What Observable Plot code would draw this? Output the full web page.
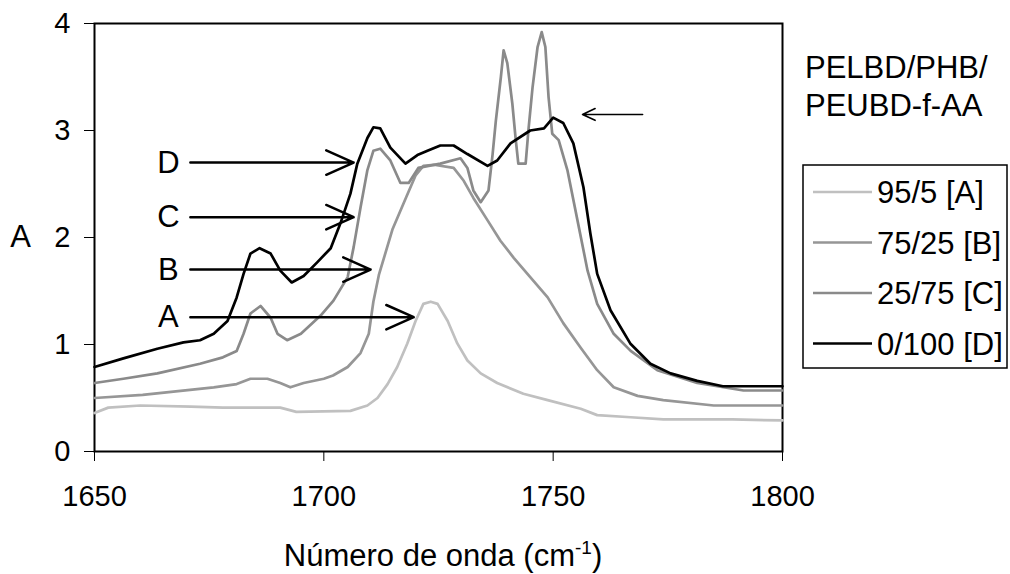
<!DOCTYPE html>
<html><head><meta charset="utf-8">
<script src="https://cdn.jsdelivr.net/npm/d3@7"></script>
<script src="https://cdn.jsdelivr.net/npm/@observablehq/plot@0.6"></script>
<style>
html,body{margin:0;padding:0;background:#fff;}
#chart{width:1010px;height:574px;}
</style></head><body><div id="chart"></div>
<script>
const seriesNames = ["95/5 [A]", "75/25 [B]", "25/75 [C]", "0/100 [D]"];
const seriesColors = ["#c0c0c0", "#969696", "#8a8a8a", "#000000"];
const legendTitle = ["PELBD/PHB/", "PEUBD-f-AA"];
const xTicks = [1650, 1700, 1750, 1800];
const yTicks = [0, 1, 2, 3, 4];

const waveA = [1650, 1653, 1660, 1671, 1678, 1690.5, 1694, 1705.8, 1709.5, 1711.7, 1713.9, 1716, 1718.2, 1720, 1721.7, 1723.3, 1724.8, 1727, 1729.1, 1731.3, 1734.2, 1737.8, 1743.5, 1748.8, 1756, 1759.6, 1766.9, 1774, 1789, 1800];
const absA  = [0.36, 0.41, 0.43, 0.42, 0.41, 0.41, 0.37, 0.38, 0.43, 0.50, 0.63, 0.79, 1.01, 1.22, 1.38, 1.40, 1.38, 1.22, 1.01, 0.85, 0.73, 0.64, 0.54, 0.48, 0.40, 0.34, 0.32, 0.30, 0.30, 0.29];

const waveB = [1650, 1660.5, 1676, 1681, 1684, 1687.7, 1690.5, 1692.7, 1695.6, 1700, 1702, 1705.2, 1708, 1709.8, 1710.8, 1712, 1715, 1718, 1720, 1721.7, 1724, 1728.3, 1730.5, 1732.6, 1735.7, 1738.5, 1741.4, 1745, 1748.8, 1752.2, 1756, 1759.6, 1763.2, 1768.4, 1774, 1785, 1800];
const absB  = [0.50, 0.53, 0.60, 0.63, 0.68, 0.68, 0.64, 0.60, 0.64, 0.68, 0.71, 0.79, 0.92, 1.10, 1.40, 1.65, 2.08, 2.38, 2.58, 2.67, 2.68, 2.65, 2.53, 2.37, 2.16, 1.97, 1.81, 1.63, 1.44, 1.20, 0.97, 0.76, 0.60, 0.52, 0.48, 0.43, 0.43];

const waveC = [1650, 1656.3, 1663.7, 1673, 1678, 1681, 1682.5, 1684, 1686.2, 1688.4, 1689.9, 1692, 1695, 1699.3, 1702.1, 1705.2, 1706.5, 1708, 1709.5, 1710.8, 1712.3, 1714.5, 1716.7, 1718.5, 1720.6, 1725.4, 1729.8, 1731.3, 1732.6, 1734.2, 1735.9, 1736.8, 1737.5, 1738.6, 1739.2, 1740, 1741.1, 1741.8, 1742.4, 1744, 1744.6, 1745.5, 1746.6, 1747.5, 1748.3, 1749, 1749.8, 1751.2, 1753.1, 1755.3, 1757.5, 1759.6, 1763.2, 1766.9, 1772.7, 1781.4, 1791.5, 1800];
const absC  = [0.64, 0.68, 0.73, 0.82, 0.88, 0.94, 1.10, 1.29, 1.36, 1.25, 1.10, 1.04, 1.10, 1.27, 1.41, 1.63, 1.91, 2.28, 2.63, 2.81, 2.83, 2.72, 2.51, 2.51, 2.65, 2.69, 2.74, 2.65, 2.44, 2.33, 2.44, 2.78, 3.09, 3.50, 3.75, 3.63, 3.25, 2.93, 2.69, 2.69, 3.00, 3.40, 3.78, 3.92, 3.78, 3.31, 2.97, 2.91, 2.63, 2.16, 1.69, 1.38, 1.10, 0.94, 0.76, 0.64, 0.57, 0.57];

const waveD = [1650, 1656.3, 1663.7, 1669.4, 1673, 1676, 1679, 1681, 1682.5, 1684, 1686, 1688.4, 1690.5, 1693, 1695.6, 1698.6, 1701.5, 1703.6, 1705.8, 1707.3, 1709.5, 1710.8, 1712.3, 1714.5, 1717.8, 1720.4, 1722.6, 1725.4, 1728.3, 1731.3, 1735.7, 1737.8, 1740.7, 1745, 1748, 1750, 1752.2, 1754.4, 1756.6, 1758.1, 1759.6, 1762.5, 1766.8, 1771.2, 1775.6, 1781.4, 1787, 1800];
const absD  = [0.79, 0.87, 0.96, 1.02, 1.04, 1.10, 1.22, 1.44, 1.66, 1.85, 1.90, 1.85, 1.69, 1.58, 1.64, 1.77, 1.90, 2.13, 2.41, 2.69, 2.93, 3.03, 3.02, 2.84, 2.69, 2.77, 2.81, 2.86, 2.86, 2.78, 2.67, 2.72, 2.88, 3.00, 3.02, 3.12, 3.07, 2.88, 2.47, 2.04, 1.66, 1.32, 1.01, 0.82, 0.73, 0.66, 0.61, 0.61];

// annotation arrows (data coordinates)
const arrowLabels = ["D", "C", "B", "A"];
const arrowLabelX = [1666.1, 1666.1, 1666.1, 1666.1];
const arrowStartX = [1670.9, 1670.9, 1670.9, 1670.9];
const arrowEndX   = [1706.5, 1706.5, 1710.2, 1719.6];
const arrowY      = [2.70, 2.19, 1.70, 1.255];
const topArrow = {x1: 1769.5, x2: 1756.4, y: 3.15};

const waves = [waveA, waveB, waveC, waveD];
const absvals = [absA, absB, absC, absD];
const rows = [];
seriesNames.forEach((s, i) => waves[i].forEach((w, j) => rows.push({series: s, x: w, y: absvals[i][j]})));
const arrows = arrowLabels.map((l, i) => ({label: l, lx: arrowLabelX[i], x1: arrowStartX[i], x2: arrowEndX[i], y: arrowY[i]}));

const FONT = "'Liberation Sans', Arial, sans-serif";
const FS = 29;
const FS2 = 31;

const plot = Plot.plot({
  width: 1010, height: 574,
  marginLeft: 94, marginRight: 228, marginTop: 23, marginBottom: 123,
  style: {fontFamily: FONT, fontSize: FS + "px", color: "#000", background: "#fff", overflow: "visible"},
  x: {domain: [1650, 1800], ticks: xTicks, tickFormat: d => String(d), tickSize: 10, tickPadding: 24, label: null},
  y: {domain: [0, 4], ticks: yTicks, tickFormat: d => String(d), tickSize: 10, tickPadding: 14, label: null},
  color: {domain: seriesNames, range: seriesColors},
  marks: [
    Plot.frame({stroke: "#000", strokeWidth: 2}),
    Plot.line(rows, {x: "x", y: "y", z: "series", stroke: "series", strokeWidth: 2.7, strokeLinejoin: "round"}),
    Plot.arrow(arrows, {x1: "x1", y1: "y", x2: "x2", y2: "y", stroke: "#000", strokeWidth: 2.5, headLength: 18, headAngle: 48}),
    Plot.text(arrows, {x: "lx", y: "y", text: "label", fontSize: FS2, fill: "#000"}),
    Plot.arrow([topArrow], {x1: "x1", y1: "y", x2: "x2", y2: "y", stroke: "#000", strokeWidth: 1.6, headLength: 13, headAngle: 50}),
    Plot.text(["A"], {frameAnchor: "left", textAnchor: "middle", dx: -74, fontSize: FS2, fill: "#000"})
  ]
});
document.getElementById("chart").appendChild(plot);

const svg = d3.select(plot);
const g = svg.append("g").attr("font-family", FONT).attr("font-size", FS2).attr("fill", "#000").attr("text-anchor", "start");
// x-axis title with superscript
const xt = g.append("text").attr("x", 443).attr("y", 566).attr("text-anchor", "middle");
xt.append("tspan").text("Número de onda (cm");
xt.append("tspan").attr("font-size", 19).attr("dy", -12).text("-1");
xt.append("tspan").attr("dy", 12).text(")");
// legend title
legendTitle.forEach((t, i) => g.append("text").attr("x", 805).attr("y", 78 + i * 38).attr("text-anchor", "start").text(t));
// legend box
g.append("rect").attr("x", 803).attr("y", 165).attr("width", 204).attr("height", 203)
  .attr("fill", "none").attr("stroke", "#000").attr("stroke-width", 1.5);
seriesNames.forEach((s, i) => {
  const cy = 192 + i * 50.5;
  g.append("line").attr("x1", 813).attr("x2", 872).attr("y1", cy).attr("y2", cy)
    .attr("stroke", seriesColors[i]).attr("stroke-width", 2.7);
  g.append("text").attr("x", 877).attr("y", cy).attr("dy", "0.36em").attr("text-anchor", "start").text(s);
});
</script>
</body></html>
